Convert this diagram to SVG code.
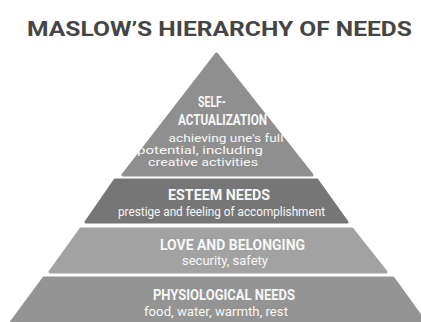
<svg xmlns="http://www.w3.org/2000/svg" width="421" height="322" viewBox="0 0 421 322">
<style>
.title{font-family:Roboto,"Liberation Sans",sans-serif;font-weight:bold;font-size:21px;fill:#454545}
.band{stroke-linejoin:round;stroke-width:3}
.h{font-family:Roboto,"Liberation Sans",sans-serif;font-weight:bold;font-size:14px;fill:#f7f7f7;text-anchor:middle}
.s{font-family:Roboto,"Noto Sans",sans-serif;font-size:12px;fill:#f7f7f7;text-anchor:middle}
.t{font-size:11px}
</style>
<rect width="421" height="322" fill="#ffffff"/>
<text class="title" x="219.5" y="36" text-anchor="middle" textLength="385" lengthAdjust="spacingAndGlyphs">MASLOW’S HIERARCHY OF NEEDS</text>
<g id="self-actualization">
<polygon class="band" points="216.5,54 312,175 123,175" fill="#8f8f8f" stroke="#8f8f8f"/>
<text class="h" x="212" y="106.5" textLength="28" lengthAdjust="spacingAndGlyphs">SELF-</text>
<text class="h" x="222.5" y="124.5" textLength="89" lengthAdjust="spacingAndGlyphs">ACTUALIZATION</text>
<text class="s t" x="226" y="141.5" textLength="115" lengthAdjust="spacingAndGlyphs">achieving une's full</text>
<text class="s t" x="200" y="153.5" textLength="126" lengthAdjust="spacingAndGlyphs">potential, including</text>
<text class="s t" x="203" y="165.5" textLength="110" lengthAdjust="spacingAndGlyphs">creative activities</text>
</g>
<g id="esteem">
<polygon class="band" points="115,180 317,180 347,222 86,222" fill="#767676" stroke="#767676"/>
<text class="h" x="219" y="200" textLength="102" lengthAdjust="spacingAndGlyphs">ESTEEM NEEDS</text>
<text class="s" x="221.5" y="216" textLength="207" lengthAdjust="spacingAndGlyphs">prestige and feeling of accomplishment</text>
</g>
<g id="love">
<polygon class="band" points="81,229 352,229 386,272 50,272" fill="#a2a2a2" stroke="#a2a2a2"/>
<text class="h" x="232.5" y="250" textLength="145" lengthAdjust="spacingAndGlyphs">LOVE AND BELONGING</text>
<text class="s" x="225" y="265" textLength="86" lengthAdjust="spacingAndGlyphs">security, safety</text>
</g>
<g id="physiological">
<polygon class="band" points="44,278 393,278 432,332 4,332" fill="#949494" stroke="#949494"/>
<text class="h" x="224" y="300" textLength="142" lengthAdjust="spacingAndGlyphs">PHYSIOLOGICAL NEEDS</text>
<text class="s" x="216" y="316" textLength="144" lengthAdjust="spacingAndGlyphs">food, water, warmth, rest</text>
</g>
<g id="connectors"/>
</svg>
